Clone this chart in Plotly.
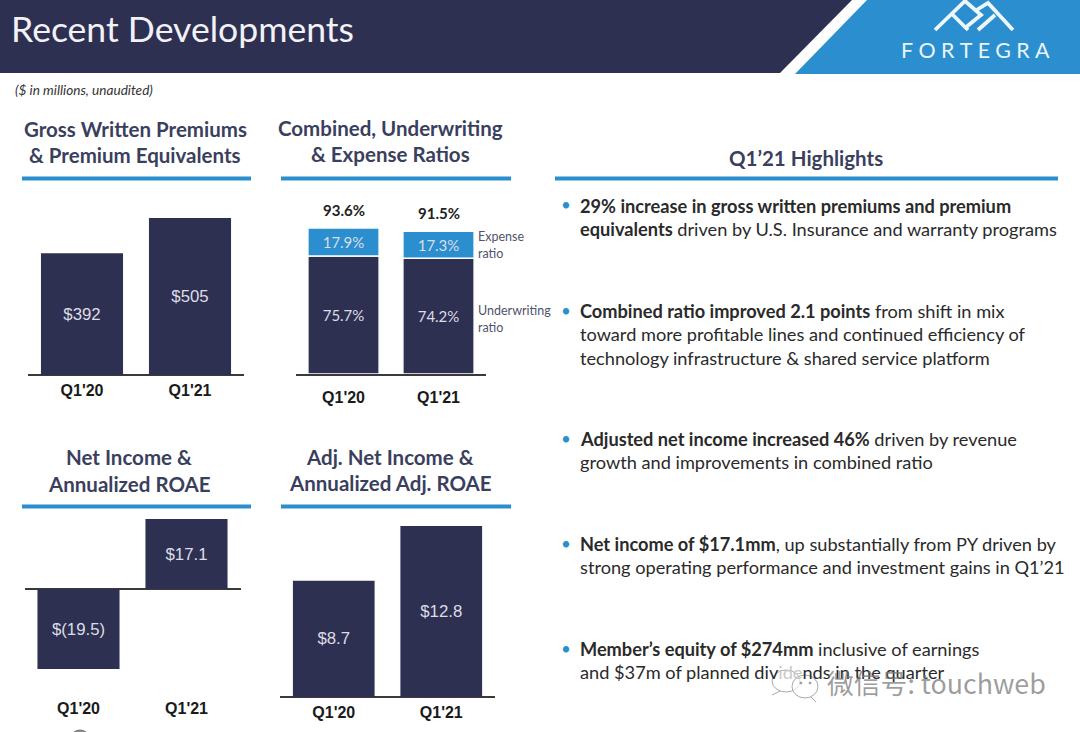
import plotly.graph_objects as go

W, H = 1080, 732
NAVY = "#2e3052"
BLUE = "#2b8fcf"
FONT = "Lato"
ARIAL = "Liberation Sans"

categories = ["Q1'20", "Q1'21"]
gwp_values = [392, 505]
gwp_labels = ["$392", "$505"]
underwriting_ratio = [75.7, 74.2]
expense_ratio = [17.9, 17.3]
combined_ratio = [93.6, 91.5]
net_income = [-19.5, 17.1]
net_income_labels = ["$(19.5)", "$17.1"]
adj_net_income = [8.7, 12.8]
adj_net_income_labels = ["$8.7", "$12.8"]

highlights = [
    ("<b>29% increase in gross written premiums and premium</b>", 206),
    ("<b>equivalents</b> driven by U.S. Insurance and warranty programs", 229),
    ("<b>Combined ratio improved 2.1 points</b> from shift in mix", 311),
    ("toward more profitable lines and continued efficiency of", 334),
    ("technology infrastructure &amp; shared service platform", 358),
    ("<b>Adjusted net income increased 46%</b> driven by revenue", 439),
    ("growth and improvements in combined ratio", 462),
    ("<b>Net income of $17.1mm</b>, up substantially from PY driven by", 544),
    ("strong operating performance and investment gains in Q1’21", 567),
    ("<b>Member’s equity of $274mm</b> inclusive of earnings", 649),
    ("and $37m of planned div<span style='color:#c9c9c9'>ide</span>nds in the quarter", 672),
]
bullet_rows = [206, 311, 439, 544, 649]
panel_titles = [
    ("<b>Gross Written Premiums</b>", 135, 129), ("<b>&amp; Premium Equivalents</b>", 135, 155),
    ("<b>Combined, Underwriting</b>", 390, 128), ("<b>&amp; Expense Ratios</b>", 390, 154),
    ("<b>Net Income &amp;</b>", 129, 457), ("<b>Annualized ROAE</b>", 129, 484),
    ("<b>Adj. Net Income &amp;</b>", 390, 457), ("<b>Annualized Adj. ROAE</b>", 390, 483),
    ("<b>Q1’21 Highlights</b>", 806, 158),
]


def px(x):
    return x / W


def py(y):
    return 1 - y / H


fig = go.Figure()

# panel: (left, right, top, bottom pixel box, y range, tick label offset)
panels = {
    "": (28, 244, 218, 375, (0, 505), 1),
    "2": (296, 486, 228, 374, (0, 93.6), 8),
    "3": (24.5, 240.5, 519, 669, (-19.5, 17.1), 25),
    "4": (280, 495, 526, 697, (0, 12.8), 1),
}
layout_axes = {}
for key, (l, r, t, b, yr, standoff) in panels.items():
    layout_axes[f"xaxis{key}"] = dict(
        domain=[px(l), px(r)], anchor=f"y{key}", type="category", range=[-0.5, 1.5],
        showgrid=False, zeroline=False, showline=key == "2", linecolor="#3a3a3a", linewidth=1.5,
        layer="above traces",
        ticks="outside", ticklen=standoff, tickcolor="rgba(0,0,0,0)",
        tickfont=dict(family=ARIAL, size=16, color="#1a1a1a"),
        tickprefix="<b>", ticksuffix="</b>",
    )
    layout_axes[f"yaxis{key}"] = dict(
        domain=[py(b), py(t)], anchor=f"x{key}", range=list(yr),
        showticklabels=False, showgrid=False, ticks="",
        zeroline=key != "2", zerolinecolor="#3a3a3a", zerolinewidth=1.5,
    )


def bar(values, labels, ax, color=NAVY, line=0, fsize=16.8, family=ARIAL):
    fig.add_trace(go.Bar(
        x=categories, y=values, text=labels, textposition="inside", insidetextanchor="middle",
        textangle=0, textfont=dict(family=family, size=fsize, color="#dcdde6"),
        marker=dict(color=color, line=dict(color="white", width=line)),
        xaxis=f"x{ax}", yaxis=f"y{ax}", width=0.76, showlegend=False,
    ))


bar(gwp_values, gwp_labels, "")
bar(underwriting_ratio, [f"{v}%" for v in underwriting_ratio], "2", line=1.5, fsize=15, family=FONT)
bar(expense_ratio, [f"{v}%" for v in expense_ratio], "2", color=BLUE, line=1.5, fsize=15, family=FONT)
bar(net_income, net_income_labels, "3")
bar(adj_net_income, adj_net_income_labels, "4")
for tr in fig.data[1:3]:
    tr.width = 0.75

ann = []


def text(s, x, y, size, color="#222", anchor="left", family=FONT):
    if anchor == "left":
        x -= 2
    ann.append(dict(text=s, x=px(x), y=py(y), xref="paper", yref="paper", showarrow=False,
                    xanchor=anchor, yanchor="middle", align=anchor,
                    font=dict(family=family, size=size, color=color)))


text("Recent Developments", 11, 29, 35.6, "#f2f2f6")
text("F\u2009\u2009O\u2009\u2009R\u2009\u2009T\u2009\u2009E\u2009\u2009G\u2009\u2009R\u2009\u2009A", 901, 50, 21.4, "#eaf5fb")
text("<i>($ in millions, unaudited)</i>", 15, 90, 13.6, "#333")
for s, x, y in panel_titles:
    text(s, x, y, 20.5, "#3b3f5e", "center")
for s, y in highlights:
    text(s, 580, y, 18.2, "#2a2a2a")
for y in bullet_rows:
    text("•", 561, y - 1, 17, BLUE)
text("Expense", 478, 237, 12.5, "#50536c")
text("ratio", 478, 253, 12.5, "#50536c")
text("Underwriting", 478, 310, 12.5, "#50536c")
text("ratio", 478, 327, 12.5, "#50536c")
text("微信号: touchweb", 827, 682, 26.8, "rgba(120,120,120,0.72)", family="Noto Sans CJK SC")

for i, total in enumerate(combined_ratio):
    ann.append(dict(text=f"<b>{total}%</b>", x=categories[i], y=total, xref="x2", yref="y2",
                    showarrow=False, yanchor="bottom", yshift=7,
                    font=dict(family=FONT, size=15, color="#222")))

shapes = []


def poly(points, fill, line=None, width=0):
    path = "M" + " L".join(f"{px(x)},{py(y)}" for x, y in points) + " Z"
    shapes.append(dict(type="path", path=path, xref="paper", yref="paper", fillcolor=fill,
                       line=dict(color=line or fill, width=width), layer="below"))


poly([(0, 0), (852, 0), (780, 73), (0, 73)], NAVY)
poly([(867, 0), (1080, 0), (1080, 74), (795, 74)], BLUE)
for a, b in [(22, 251), (281, 511)]:
    for y in (176.5, 504.5):
        poly([(a, y), (b, y), (b, y + 4), (a, y + 4)], BLUE)
poly([(555, 176.5), (1058, 176.5), (1058, 180.5), (555, 180.5)], BLUE)


def stroke(points, color="#eef7fc", width=3.8):
    path = "M" + " L".join(f"{px(x)},{py(y)}" for x, y in points)
    shapes.append(dict(type="path", path=path, xref="paper", yref="paper",
                       line=dict(color=color, width=width), layer="above"))


stroke([(935, 30), (965, 1), (981, 15), (965, 28)])
stroke([(952, 14), (968, 30)])
stroke([(975, 11), (988, 3), (1013, 30)])
stroke([(978, 30), (995, 15)])


def ellipse(x0, y0, x1, y1, line, fill, width=1):
    shapes.append(dict(type="circle", xref="paper", yref="paper", x0=px(x0), x1=px(x1),
                       y0=py(y1), y1=py(y0), line=dict(color=line, width=width),
                       fillcolor=fill, layer="above"))


# WeChat-style watermark glyph
GREY = "rgba(140,140,140,0.75)"
ellipse(772, 670, 800, 692, GREY, "rgba(255,255,255,0.4)")
ellipse(792, 675, 818, 698, GREY, "rgba(255,255,255,0.6)")
ellipse(800, 682, 802, 684, GREY, GREY)
ellipse(809, 682, 811, 684, GREY, GREY)
stroke([(780, 691), (772, 695)], GREY, 1)
stroke([(811, 697), (816, 702)], GREY, 1)
# sliver of a dark mark at the bottom edge
ellipse(72, 730, 88, 742, "rgba(90,90,90,0.7)", "rgba(90,90,90,0.7)")

fig.update_layout(
    width=W, height=H, margin=dict(l=0, r=0, t=0, b=0), barmode="relative", bargap=0.24,
    paper_bgcolor="white", plot_bgcolor="rgba(0,0,0,0)",
    annotations=ann, shapes=shapes, **layout_axes,
)
fig.write_html("out.html", config=dict(displayModeBar=False),
               post_script="document.body.style.margin='0';document.body.style.overflow='hidden';")
